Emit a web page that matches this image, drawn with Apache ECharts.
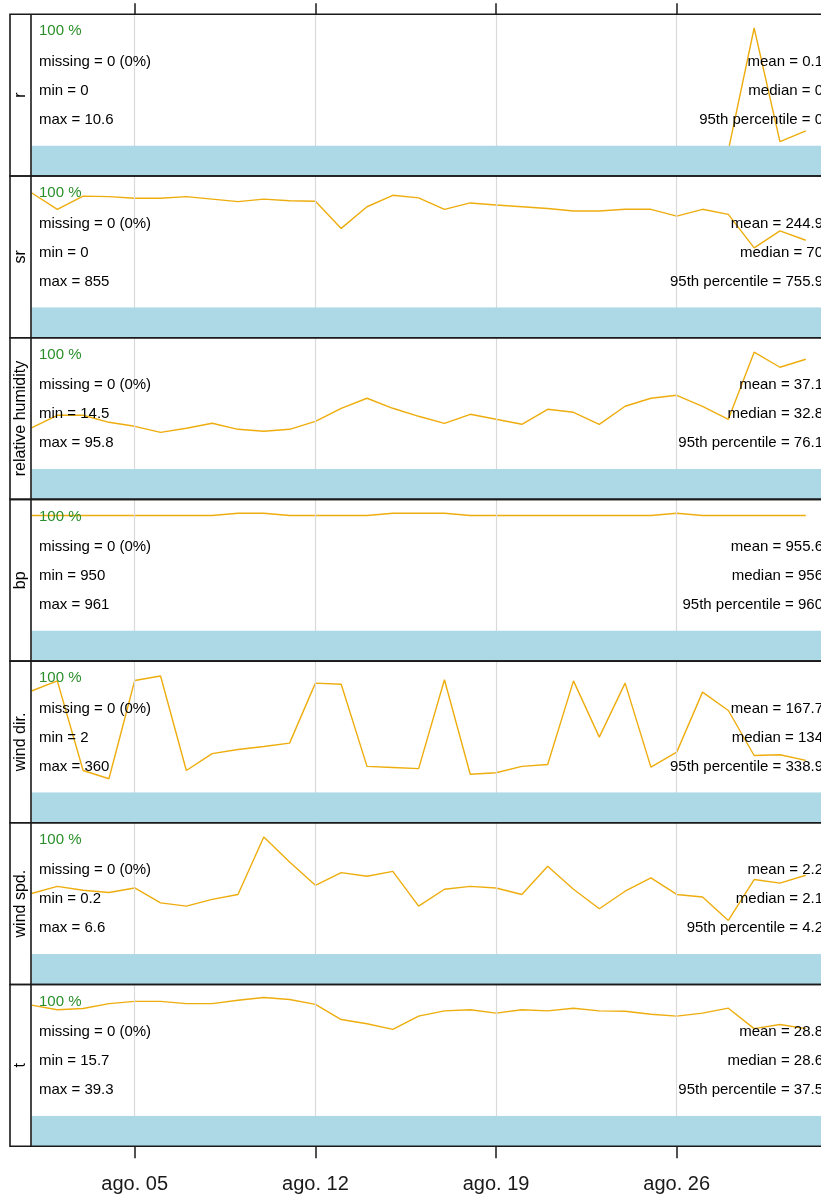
<!DOCTYPE html>
<html><head><meta charset="utf-8">
<script src="https://cdn.jsdelivr.net/npm/echarts@6/dist/echarts.min.js"></script>
<style>html,body{margin:0;padding:0;background:#fff;overflow:hidden}#c{width:821px;height:1198px}</style>
</head><body><div id="c"></div>
<script>
// ---- data ----
const dates = ['2019-08-01','2019-08-02','2019-08-03','2019-08-04','2019-08-05','2019-08-06','2019-08-07','2019-08-08',
  '2019-08-09','2019-08-10','2019-08-11','2019-08-12','2019-08-13','2019-08-14','2019-08-15','2019-08-16','2019-08-17',
  '2019-08-18','2019-08-19','2019-08-20','2019-08-21','2019-08-22','2019-08-23','2019-08-24','2019-08-25','2019-08-26',
  '2019-08-27','2019-08-28','2019-08-29','2019-08-30','2019-08-31'];
const rangeStart = '2019-08-01 00:00';
const rangeEnd = '2019-08-31 23:00';
const tickDates = ['2019-08-05','2019-08-12','2019-08-19','2019-08-26'];
const tickLabels = ['ago. 05','ago. 12','ago. 19','ago. 26'];
const variables = ['r','sr','relative humidity','bp','wind dir.','wind spd.','t'];

const rValues = [0,0,0,0,0,0,0,0,0,0,0,0,0,0,0,0,0,0,0,0,0,0,0,0,0,0,0,0,2.4,0.17,0.38];
const srValues = [281,242,273,272,268,268,272,266,260,266,262,261,197,248,275,269,242,257,252,248,244,238,238,242,242,226,242,230,151,191,169];
const rhValues = [27.4,35.0,35.0,30.8,28.4,24.8,27.2,30.2,26.6,25.4,26.6,31.4,39.2,45.2,39.2,34.4,30.2,35.6,32.6,29.6,38.6,36.8,29.6,40.4,45.2,47.0,40.4,32.6,72.8,63.8,68.6];
const bpValues = [955.5,955.5,955.5,955.5,955.5,955.5,955.5,955.5,956.5,956.5,955.5,955.5,955.5,955.5,956.5,956.5,956.5,955.5,955.5,955.5,955.5,955.5,955.5,955.5,955.5,956.5,955.5,955.5,955.5,955.5,955.5];
const wdValues = [283,310,71,49,311,323,71,116,127,135,144,304,301,82,79,76,313,61,65,82,87,310,160,304,80,120,280,231,111,113,98];
const wsValues = [2.01,2.23,2.11,2.04,2.18,1.72,1.62,1.83,1.98,3.75,2.98,2.26,2.65,2.54,2.69,1.62,2.14,2.23,2.18,1.98,2.85,2.14,1.54,2.08,2.49,1.98,1.90,1.18,2.44,2.33,2.57];
const tValues = [30.4,29.2,29.5,30.8,31.4,31.4,30.8,30.8,31.7,32.4,31.9,30.6,26.6,25.5,24.0,27.5,28.9,29.2,28.3,29.2,28.9,29.6,28.9,28.8,28.0,27.5,28.3,29.6,24.2,25.3,24.2];
const seriesValues = [rValues, srValues, rhValues, bpValues, wdValues, wsValues, tValues];

const captureValues = [100,100,100,100,100,100,100];
const missingLabels = ['0 (0%)','0 (0%)','0 (0%)','0 (0%)','0 (0%)','0 (0%)','0 (0%)'];
const minLabels = ['0','0','14.5','950','2','0.2','15.7'];
const maxLabels = ['10.6','855','95.8','961','360','6.6','39.3'];
const meanLabels = ['0.1','244.9','37.1','955.6','167.7','2.2','28.8'];
const medianLabels = ['0','70','32.8','956','134','2.1','28.6'];
const p95Labels = ['0','755.9','76.1','960','338.9','4.2','37.5'];

// ---- scales / layout ----
const yLimits = [[-0.504,2.669],[-60.6,320.5],[-15.4,81.5],[892.2,962.5],[-68.5,362.7],[-0.791,4.185],[-6.77,35.84]];

function ts(s){
  const [d, tm] = s.split(' ');
  const [y,m,dd] = d.split('-').map(Number);
  let h = 0; if (tm) h = Number(tm.split(':')[0]);
  return Date.UTC(y, m-1, dd, h);
}
const xMin = ts(rangeStart), xMax = ts(rangeEnd);
const tickTs = tickDates.map(ts);
const fmt = v => { const i = tickTs.findIndex(t => Math.abs(t - v) < 3600e3); return i >= 0 ? tickLabels[i] : ''; };

const TOP0 = 14.3, PH = 161.7, BAR_OFF = 131.2, LEFT = 31.5, PW = 799;
const LINE_COL = '#EEAD0E', BAR_COL = '#ADD8E6', GRID_COL = '#d9d9d9', FRAME = '#1a1a1a';
const FONT = "'Liberation Sans', Arial, sans-serif";

const grid = [], xAxis = [], yAxis = [], series = [], graphic = [];
const n = variables.length;
for (let k = 0; k < n; k++) {
  const top = TOP0 + PH * k;
  grid.push({left: LEFT, width: PW, top: top, height: PH, outerBoundsMode: 'none', containLabel: false});
  grid.push({left: LEFT, width: PW, top: top + BAR_OFF, height: PH - BAR_OFF, outerBoundsMode: 'none', containLabel: false});
  const baseX = {type: 'value', min: xMin, max: xMax, scale: true, axisLine: {show: false, onZero: false},
    axisTick: {show: false}, axisLabel: {show: false}, splitLine: {show: false}};
  const lx = Object.assign({}, baseX, {gridIndex: 2*k});
  if (k === 0) {
    lx.position = 'top';
    lx.axisTick = {show: true, inside: false, length: 11, customValues: tickTs, lineStyle: {color: FRAME, width: 1.5}};
  }
  const bx = Object.assign({}, baseX, {gridIndex: 2*k+1});
  if (k === n-1) {
    bx.position = 'bottom';
    bx.axisTick = {show: true, inside: false, length: 12, customValues: tickTs, lineStyle: {color: FRAME, width: 1.5}};
    bx.axisLabel = {show: true, customValues: tickTs, formatter: fmt, fontSize: 20, color: '#1a1a1a',
      fontFamily: FONT, margin: 28, hideOverlap: false};
  }
  xAxis.push(lx, bx);
  yAxis.push({gridIndex: 2*k, type: 'value', min: yLimits[k][0], max: yLimits[k][1], show: false});
  yAxis.push({gridIndex: 2*k+1, type: 'value', min: 0, max: 100, show: false});

  // grid lines
  series.push({type: 'line', xAxisIndex: 2*k, yAxisIndex: 2*k, data: [], z: 1, silent: true,
    markLine: {silent: true, symbol: 'none', label: {show: false}, animation: false,
      lineStyle: {color: GRID_COL, width: 1.2, type: 'solid'},
      data: tickTs.map(t => ({xAxis: t}))}});
  // trend line
  series.push({type: 'line', name: variables[k], xAxisIndex: 2*k, yAxisIndex: 2*k, symbol: 'none', z: 3,
    data: dates.map((d, i) => [ts(d), seriesValues[k][i]]),
    lineStyle: {color: LINE_COL, width: 1.4}, animation: false});
  // data capture bar
  series.push({type: 'line', xAxisIndex: 2*k+1, yAxisIndex: 2*k+1, symbol: 'none', z: 5, silent: true,
    data: [[xMin, captureValues[k]], [xMax, captureValues[k]]],
    lineStyle: {width: 0}, areaStyle: {color: BAR_COL, opacity: 1}, animation: false});

  // texts
  const rows = [17, 47.5, 76.5, 105.5];
  const txt = (x, y, s, align, color) => ({type: 'text', x: x, y: y, z: 20, silent: true,
    style: {text: s, fill: color || '#000', font: '15px ' + FONT, textAlign: align, textVerticalAlign: 'middle'}});
  graphic.push(txt(39, top + rows[0], captureValues[k] + ' %', 'left', '#2a8f2a'));
  graphic.push(txt(39, top + rows[1], 'missing = ' + missingLabels[k], 'left'));
  graphic.push(txt(39, top + rows[2], 'min = ' + minLabels[k], 'left'));
  graphic.push(txt(39, top + rows[3], 'max = ' + maxLabels[k], 'left'));
  graphic.push(txt(823, top + rows[1], 'mean = ' + meanLabels[k], 'right'));
  graphic.push(txt(823, top + rows[2], 'median = ' + medianLabels[k], 'right'));
  graphic.push(txt(823, top + rows[3], '95th percentile = ' + p95Labels[k], 'right'));
  // strip label
  graphic.push({type: 'text', x: 20.5, y: top + PH/2, rotation: Math.PI/2, z: 20, silent: true,
    style: {text: variables[k], fill: '#000', font: '16px ' + FONT, textAlign: 'center', textVerticalAlign: 'middle'}});
  // frame
  graphic.push({type: 'rect', z: 30, silent: true, shape: {x: 10, y: top, width: 840, height: PH},
    style: {fill: null, stroke: FRAME, lineWidth: 1.6}});
}
graphic.push({type: 'line', z: 30, silent: true, shape: {x1: 31, y1: TOP0, x2: 31, y2: TOP0 + PH*n},
  style: {stroke: FRAME, lineWidth: 1.6}});

const chart = echarts.init(document.getElementById('c'), null, {renderer: 'canvas'});
chart.setOption({animation: false, backgroundColor: '#fff', grid, xAxis, yAxis, series, graphic});
</script></body></html>
